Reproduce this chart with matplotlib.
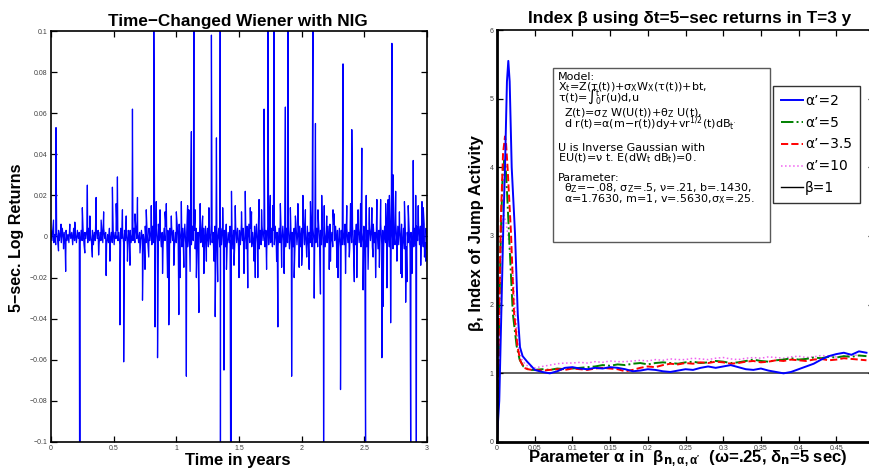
import matplotlib
matplotlib.use('Agg')
import matplotlib.pyplot as plt
from matplotlib.patches import Rectangle
from matplotlib.lines import Line2D
import numpy as np

plt.rcParams['font.family'] = ['Liberation Sans', 'DejaVu Sans']
plt.rcParams['mathtext.fontset'] = 'dejavusans'
plt.rcParams['mathtext.default'] = 'regular'
plt.rcParams['axes.unicode_minus'] = True

W, H = 869, 475

# ============================================================
# Left panel data: 5-sec log returns (background noise, in 1e-3, + jumps)
# ============================================================
noise_milli = [
    3, -2, 4, -3, 1, -4, 2, -1, 3, -2,
    2, -3, 4, -1, 2, -4, 3, -2, 1, -3,
    3, -1, 2, -4, 4, -2, 1, -3, 3, -1,
    2, -3, 3, -2, 4, -4, 2, -1, 3, -3,
    4, -2, 1, -3, 3, -4, 2, -2, 4, -1,
    3, -4, 2, -2, 3, -3, 4, -1, 2, -4,
    1, -3, 4, -2, 2, -3, 3, -4, 2, -1,
    3, -2, 2, -4, 4, -1, 2, -3, 3, -2,
    2, -4, 3, -1, 3, -3, 1, -2, 4, -3,
    4, -1, 2, -3, 2, -4, 3, -2, 1, -3,
    5, -3, 2, -5, 4, -2, 3, -4, 5, -3,
    2, -4, 4, -3, 6, -2, 3, -5, 2, -4,
    4, -2, 5, -4, 3, -6, 4, -3, 5, -2,
    3, -5, 2, -3, 5, -4, 6, -2, 3, -5,
    4, -3, 6, -4, 2, -5, 3, -2, 5, -4,
    5, -2, 3, -6, 4, -3, 2, -4, 6, -3,
    3, -5, 4, -2, 5, -3, 4, -5, 2, -4,
    6, -3, 2, -4, 5, -6, 3, -2, 4, -5,
    4, -4, 5, -3, 3, -5, 6, -4, 2, -3,
    5, -2, 4, -6, 3, -4, 5, -3, 4, -5,
    3, -4, 6, -2, 4, -5, 3, -6, 5, -3,
    6, -3, 4, -5, 2, -4, 5, -3, 6, -4,
    4, -6, 3, -4, 5, -2, 4, -5, 3, -6,
    5, -4, 6, -3, 4, -5, 3, -4, 5, -3,
    2, -5, 4, -3, 6, -4, 5, -2, 3, -5,
    4, -3, 5, -6, 3, -4, 2, -5, 4, -3,
    6, -4, 3, -2, 5, -5, 4, -3, 6, -4,
    3, -6, 5, -4, 2, -3, 6, -5, 4, -2,
    5, -3, 4, -5, 6, -2, 3, -4, 5, -6,
    4, -5, 2, -3, 5, -4, 6, -3, 2, -5,
    6, -2, 5, -4, 3, -6, 4, -5, 3, -4,
    3, -4, 6, -5, 4, -3, 2, -6, 5, -3,
    5, -6, 3, -4, 6, -2, 5, -3, 4, -5,
    2, -3, 5, -6, 4, -5, 3, -4, 6, -2,
    4, -5, 6, -3, 2, -4, 5, -6, 3, -4,
    6, -4, 3, -5, 5, -3, 4, -2, 6, -5,
    3, -5, 4, -6, 2, -4, 6, -3, 5, -4,
    5, -3, 6, -4, 4, -6, 3, -5, 2, -3,
    4, -6, 2, -3, 6, -5, 4, -4, 5, -2,
    6, -4, 5, -2, 3, -5, 6, -3, 4, -6,
]
jump_t = [0.02, 0.04, 0.06, 0.117, 0.15, 0.228, 0.232, 0.25, 0.29, 0.33,
          0.36, 0.40, 0.44, 0.49, 0.52, 0.53, 0.55, 0.58, 0.61, 0.65,
          0.69, 0.71, 0.73, 0.76, 0.78, 0.82, 0.83, 0.84, 0.85, 0.89,
          0.91, 0.93, 0.94, 0.96, 1.02, 1.04, 1.06, 1.08, 1.10, 1.12,
          1.14, 1.16, 1.18, 1.21, 1.24, 1.28, 1.31, 1.32, 1.33, 1.35,
          1.352, 1.38, 1.433, 1.437, 1.44, 1.47, 1.50, 1.55, 1.57, 1.60,
          1.63, 1.66, 1.70, 1.73, 1.75, 1.78, 1.81, 1.84, 1.87, 1.89,
          1.92, 1.95, 1.98, 2.01, 2.04, 2.07, 2.09, 2.10, 2.11, 2.15,
          2.16, 2.175, 2.20, 2.23, 2.26, 2.28, 2.31, 2.33, 2.36, 2.38,
          2.40, 2.42, 2.45, 2.48, 2.49, 2.51, 2.515, 2.54, 2.57, 2.60,
          2.62, 2.64, 2.65, 2.67, 2.69, 2.71, 2.72, 2.73, 2.76, 2.78,
          2.80, 2.83, 2.85, 2.87, 2.89, 2.915, 2.93, 2.96, 2.98, 2.99]
jump_v = [0.008, 0.053, -0.007, -0.017, 0.006, -0.11, -0.11, 0.014, 0.025, -0.010,
          0.019, 0.008, -0.019, 0.024, 0.016, 0.029, -0.043, -0.061, -0.012, 0.062,
          0.019, -0.008, -0.031, 0.013, -0.010, 0.11, -0.044, 0.017, -0.059, -0.018,
          0.012, -0.020, -0.043, 0.010, -0.038, 0.017, -0.015, -0.068, 0.013, 0.051,
          0.11, -0.020, -0.037, 0.010, -0.012, 0.098, -0.039, 0.048, -0.022, 0.11,
          -0.11, -0.065, -0.11, -0.11, 0.022, 0.015, -0.020, 0.022, -0.025, 0.012,
          -0.020, 0.018, 0.062, 0.11, 0.020, 0.11, -0.044, -0.015, 0.063, 0.11,
          -0.068, 0.010, -0.015, 0.020, -0.010, 0.017, 0.11, -0.030, 0.055, -0.028,
          0.020, -0.11, 0.010, -0.012, 0.011, -0.015, -0.0745, 0.084, 0.015, -0.010,
          0.052, -0.022, 0.013, 0.043, -0.026, -0.11, 0.020, 0.014, -0.010, 0.018,
          -0.015, -0.059, -0.034, 0.016, 0.018, -0.042, 0.094, 0.030, -0.012, 0.012,
          -0.020, -0.032, 0.015, -0.11, 0.037, -0.11, 0.015, 0.017, -0.010, -0.012]
small_jump_t = [0.08, 0.10, 0.19, 0.27, 0.31, 0.38, 0.42, 0.47, 0.57, 0.60,
                0.63, 0.67, 0.75, 0.80, 0.87, 0.92, 0.98, 1.00, 1.03, 1.09,
                1.11, 1.15, 1.19, 1.22, 1.26, 1.30, 1.37, 1.40, 1.46, 1.52,
                1.54, 1.59, 1.62, 1.65, 1.68, 1.72, 1.77, 1.80, 1.83, 1.86,
                1.91, 1.94, 1.97, 2.00, 2.03, 2.06, 2.13, 2.18, 2.22, 2.25,
                2.29, 2.35, 2.39, 2.44, 2.47, 2.53, 2.56, 2.59, 2.63, 2.68,
                2.70, 2.75, 2.79, 2.82, 2.84, 2.88, 2.91, 2.95, 2.97]
small_jump_v = [0.006, -0.006, 0.007, -0.008, 0.010, -0.009, 0.012, -0.012, 0.013, 0.010,
                -0.014, 0.011, -0.016, 0.015, 0.013, 0.016, -0.014, 0.012, -0.020, 0.015,
                -0.017, 0.013, 0.016, -0.018, 0.014, -0.012, 0.014, -0.016, -0.014, 0.012,
                -0.018, 0.014, -0.012, -0.020, 0.013, -0.016, 0.015, -0.012, 0.016, -0.018,
                0.014, -0.020, 0.016, -0.014, 0.013, -0.016, 0.013, 0.015, -0.016, 0.013,
                -0.020, -0.018, 0.016, -0.020, 0.016, -0.016, 0.014, -0.020, 0.018, -0.025,
                0.020, 0.022, -0.018, 0.017, -0.022, -0.018, 0.020, -0.014, 0.014]

# ============================================================
# Right panel data: beta estimates vs alpha
# ============================================================
tail_alpha = np.round(np.arange(0.05, 0.495, 0.01), 2)

blue_head_a = [0.0, 0.003, 0.006, 0.0085, 0.0106, 0.0132, 0.015, 0.0168, 0.0195, 0.0239, 0.0275, 0.0305, 0.034, 0.040, 0.046]
blue_head_b = [0.05, 0.6, 2.0, 3.2, 4.0, 5.25, 5.55, 5.25, 4.0, 3.03, 1.87, 1.38, 1.25, 1.17, 1.10]
blue_tail = [1.05, 1.02, 1.00, 1.03, 1.08,
             1.09, 1.07, 1.06, 1.08, 1.07,
             1.09, 1.08, 1.06, 1.03, 1.04,
             1.06, 1.05, 1.03, 1.02, 1.04,
             1.06, 1.05, 1.08, 1.10, 1.08,
             1.10, 1.12, 1.09, 1.06, 1.05,
             1.07, 1.04, 1.02, 1.00, 1.02,
             1.06, 1.10, 1.14, 1.20, 1.25,
             1.28, 1.30, 1.27, 1.32, 1.30]

green_head_a = [0.0, 0.0015, 0.003, 0.005, 0.0075, 0.0095, 0.0115, 0.0135, 0.016, 0.021, 0.026, 0.030, 0.035, 0.041, 0.046]
green_head_b = [0.05, 0.5, 1.8, 3.0, 3.9, 4.1, 4.0, 3.6, 3.0, 1.87, 1.4, 1.2, 1.1, 1.06, 1.05]
green_tail = [1.05, 1.06, 1.05, 1.07, 1.06,
              1.07, 1.08, 1.09, 1.10, 1.12,
              1.11, 1.13, 1.12, 1.14, 1.15,
              1.13, 1.15, 1.16, 1.15, 1.14,
              1.16, 1.17, 1.15, 1.16, 1.18,
              1.17, 1.15, 1.16, 1.18, 1.20,
              1.18, 1.17, 1.19, 1.20, 1.22,
              1.20, 1.21, 1.23, 1.22, 1.24,
              1.23, 1.25, 1.24, 1.26, 1.25]

red_head_a = [0.0, 0.0015, 0.003, 0.005, 0.008, 0.0106, 0.012, 0.014, 0.0186, 0.0225, 0.027, 0.031, 0.036, 0.041, 0.046]
red_head_b = [0.05, 0.6, 2.0, 3.2, 4.2, 4.45, 4.35, 4.0, 3.03, 1.9, 1.4, 1.18, 1.08, 1.06, 1.05]
red_tail = [1.05, 1.04, 1.05, 1.06, 1.05,
            1.07, 1.06, 1.05, 1.07, 1.08,
            1.07, 1.06, 1.03, 1.05, 1.08,
            1.10, 1.09, 1.12, 1.14, 1.13,
            1.15, 1.14, 1.16, 1.15, 1.17,
            1.16, 1.14, 1.15, 1.17, 1.18,
            1.16, 1.17, 1.19, 1.18, 1.20,
            1.19, 1.18, 1.20, 1.21, 1.19,
            1.20, 1.22, 1.21, 1.20, 1.19]

mag_head_a = [0.0, 0.0015, 0.003, 0.005, 0.007, 0.009, 0.012, 0.016, 0.021, 0.024, 0.028, 0.033, 0.038, 0.044]
mag_head_b = [0.05, 0.5, 1.6, 2.7, 3.2, 3.3, 3.2, 2.9, 2.5, 1.9, 1.4, 1.2, 1.12, 1.1]
mag_tail = [1.08, 1.10, 1.12, 1.14, 1.15,
            1.15, 1.16, 1.15, 1.17, 1.16,
            1.18, 1.17, 1.17, 1.18, 1.19,
            1.18, 1.20, 1.19, 1.21, 1.20,
            1.20, 1.22, 1.21, 1.20, 1.22,
            1.23, 1.21, 1.20, 1.22, 1.23,
            1.22, 1.24, 1.23, 1.22, 1.24,
            1.25, 1.23, 1.24, 1.26, 1.25,
            1.24, 1.25, 1.27, 1.26, 1.25]

legend_labels = ['α’=2', 'α’=5', 'α’−3.5', 'α’=10', 'β=1']

box_lines = [
    (558, 79.5, 'Model:'),
    (558, 90, 'X$_t$=Z(τ(t))+σ$_X$W$_X$(τ(t))+bt,'),
    (558, 100.5, 'τ(t)=∫$_0^t$r(u)d,u'),
    (564, 116.7, 'Z(t)=σ$_Z$ W(U(t))+θ$_Z$ U(t),'),
    (564, 127.2, "d r(t)=α(m−r(t))dy+vr$^{1/2}$(t)dB$_{t'}$"),
    (558, 150.7, 'U is Inverse Gaussian with'),
    (558, 161, 'EU(t)=ν t. E(dW$_t$ dB$_t$)=0.'),
    (558, 181.3, 'Parameter:'),
    (564, 191.6, 'θ$_Z$=−.08, σ$_Z$=.5, ν=.21, b=.1430,'),
    (564, 202, 'α=1.7630, m=1, v=.5630,σ$_X$=.25.'),
]


def fx(x):
    return x / W


def fy(y):
    return 1 - y / H


fig = plt.figure(figsize=(W / 100, H / 100), dpi=100)

# ---------------- left panel ----------------
ax1 = fig.add_axes([fx(51), fy(442), 376 / W, 411 / H])
noise = np.array(noise_milli) * 0.001
t_noise = np.linspace(0, 3, len(noise))
t_all = np.concatenate([t_noise, jump_t, small_jump_t])
v_all = np.concatenate([noise, jump_v, small_jump_v])
order = np.argsort(t_all, kind='stable')
ax1.plot(t_all[order], v_all[order], color='#0000ff', lw=0.9)
ax1.set_xlim(0, 3)
ax1.set_ylim(-0.1, 0.1)
ax1.set_xticks([0, 0.5, 1, 1.5, 2, 2.5, 3])
ax1.set_xticklabels(['0', '0.5', '1', '1.5', '2', '2.5', '3'])
yt = [-0.1, -0.08, -0.06, -0.04, -0.02, 0, 0.02, 0.04, 0.06, 0.08, 0.1]
ax1.set_yticks(yt)
ax1.set_yticklabels(['−0.1', '−0.08', '−0.06', '−0.04', '−0.02', '0',
                     '0.02', '0.04', '0.06', '0.08', '0.1'])

# ---------------- right panel ----------------
ax2 = fig.add_axes([fx(497), fy(442), 377 / W, 412 / H])
ax2.axhline(1, color='0.2', lw=1.1, zorder=1)
mag_line, = ax2.plot(np.concatenate([mag_head_a, tail_alpha]), np.concatenate([mag_head_b, mag_tail]),
                     color='#f060f0', ls=':', lw=1.1)
green_line, = ax2.plot(np.concatenate([green_head_a, tail_alpha]), np.concatenate([green_head_b, green_tail]),
                       color='#008000', ls='-.', lw=1.4)
red_line, = ax2.plot(np.concatenate([red_head_a, tail_alpha]), np.concatenate([red_head_b, red_tail]),
                     color='#ff0000', ls='--', lw=1.4)
blue_line, = ax2.plot(np.concatenate([blue_head_a, tail_alpha]), np.concatenate([blue_head_b, blue_tail]),
                      color='#0000ff', ls='-', lw=1.4)
black_handle = Line2D([], [], color='black', lw=1.0)
ax2.set_xlim(0, 0.5)
ax2.set_ylim(0, 6)
ax2.set_xticks([0, 0.05, 0.1, 0.15, 0.2, 0.25, 0.3, 0.35, 0.4, 0.45])
ax2.set_xticklabels(['0', '0.05', '0.1', '0.15', '0.2', '0.25', '0.3', '0.35', '0.4', '0.45'])
ax2.set_yticks(range(7))

for ax in (ax1, ax2):
    ax.tick_params(direction='in', length=4, width=0.9, top=True, right=True,
                   labelsize=5, pad=2.5, labelcolor='0.25')
    for s in ax.spines.values():
        s.set_linewidth(1.2)
ax2.spines['left'].set_linewidth(2.0)
ax2.spines['bottom'].set_linewidth(2.0)

leg = ax2.legend([blue_line, green_line, red_line, mag_line, black_handle], legend_labels,
                 loc='upper left', bbox_to_anchor=(fx(773), fy(86)), bbox_transform=fig.transFigure,
                 borderaxespad=0, prop={'family': 'DejaVu Sans', 'size': 10}, frameon=True,
                 fancybox=False, edgecolor='black', handlelength=1.6, handletextpad=0.15,
                 borderpad=0.55, labelspacing=0.57)
leg.get_frame().set_linewidth(1.0)

# model text box
fig.patches.append(Rectangle((fx(553), fy(242)), (770 - 553) / W, (242 - 68) / H,
                             transform=fig.transFigure, fill=False, edgecolor='0.35', lw=1.0))
for x, y, s in box_lines:
    fig.text(fx(x), fy(y), s, fontsize=8.0, family='DejaVu Sans', va='baseline', ha='left')

# titles and axis labels
fig.text(fx(238), fy(26), 'Time−Changed Wiener with NIG', fontsize=12.3, fontweight='bold',
         ha='center', va='baseline')
fig.text(fx(238), fy(465), 'Time in years', fontsize=12, fontweight='bold', ha='center', va='baseline')
fig.text(fx(17), fy(238), '5−sec. Log Returns', fontsize=11.5, fontweight='bold', rotation=90,
         ha='center', va='center')

fig.text(fx(690), fy(23), 'Index β using δt=5−sec returns in T=3 y', fontsize=12.3, fontweight='bold',
         ha='center', va='baseline')
fig.text(fx(477), fy(233), 'β, Index of Jump Activity', fontsize=12, fontweight='bold', rotation=90,
         ha='center', va='center')
fig.text(fx(688), fy(462), r"Parameter α in  $\beta_{\mathbf{n},\alpha,\alpha'}$  (ω=.25, δ$_\mathbf{n}$=5 sec)",
         fontsize=12, fontweight='bold', ha='center', va='baseline')

plt.savefig('out.png', dpi=100)
print("saved")
